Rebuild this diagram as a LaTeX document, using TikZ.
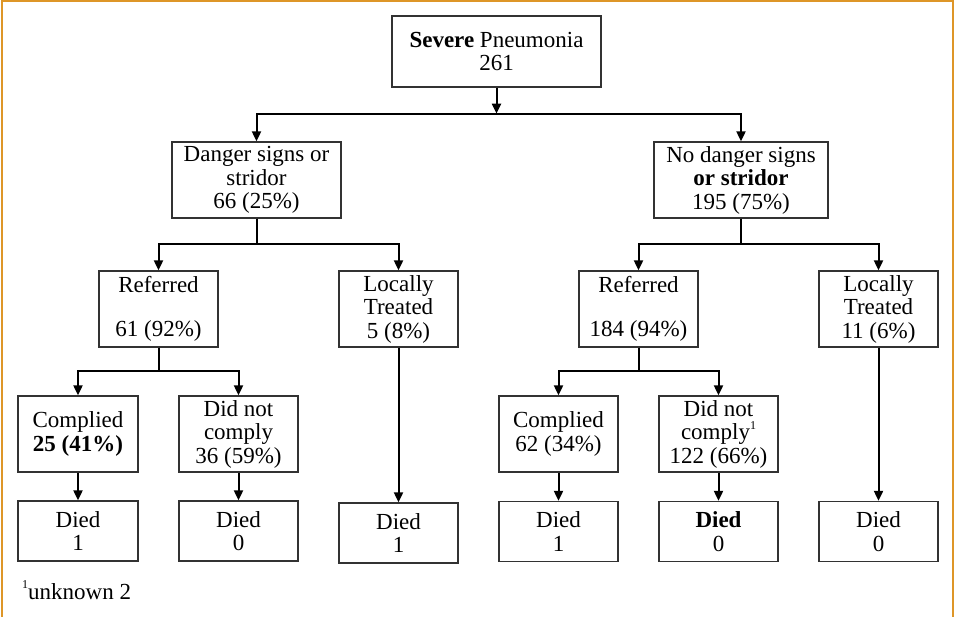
\documentclass[tikz,border=0pt]{standalone}
\usepackage{fontspec}
\setmainfont{Liberation Serif}
\usetikzlibrary{arrows.meta}
\definecolor{frameorange}{RGB}{222,150,40}
\definecolor{boxgray}{RGB}{50,50,50}
\newcommand{\fnmark}{\raisebox{0.45em}{\fontsize{12}{12}\selectfont 1}}

\begin{document}
\begin{tikzpicture}[x=1pt,y=-1pt,
  font=\fontsize{23}{23.5}\selectfont,
  box/.style={draw=boxgray,line width=1.3pt,align=center,inner sep=0pt,minimum width=119pt,minimum height=76pt},
  diedbox/.style={box,minimum height=60pt},
  link/.style={line width=2pt},
  arrow/.style={link,-{Triangle[length=10pt,width=9pt]}}
]
\useasboundingbox (0,0) rectangle (956,617);
\draw[frameorange,line width=2pt] (2,617) -- (2,1) -- (953,1) -- (953,617);

\node[box,minimum width=209pt,minimum height=71pt] (sp) at (496.5,51.5) {\textbf{Severe} Pneumonia\\261};
\node[box,minimum width=169pt] (dg) at (256.5,180) {Danger signs or\\stridor\\66 (25\%)};
\node[box,minimum width=174pt] (nd) at (741,180) {No danger signs\\\textbf{or stridor}\\195 (75\%)};
\node[box] (refl) at (158.5,309) {Referred\\[21pt]61 (92\%)};
\node[box] (locl) at (398.5,309) {Locally\\Treated\\5 (8\%)};
\node[box] (refr) at (638.5,309) {Referred\\[21pt]184 (94\%)};
\node[box] (locr) at (878.5,309) {Locally\\Treated\\11 (6\%)};
\node[box,minimum width=120pt] (coml) at (78,434) {Complied\\\textbf{25 (41\%)}};
\node[box] (dncl) at (238.5,434) {Did not\\comply\\36 (59\%)};
\node[box] (comr) at (558.5,434) {Complied\\62 (34\%)};
\node[box] (dncr) at (718.5,434) {Did not\\comply\fnmark\\122 (66\%)};
\node[diedbox,minimum width=120pt] (dcoml) at (78,531) {Died\\1};
\node[diedbox] (ddncl) at (238.5,531) {Died\\0};
\node[diedbox] (dlocl) at (398.5,533) {Died\\1};
\node[diedbox] (dcomr) at (558.5,531.5) {Died\\1};
\node[diedbox] (ddncr) at (718.5,531.5) {\textbf{Died}\\0};
\node[diedbox] (dlocr) at (878.5,531.5) {Died\\0};
\node[anchor=base west,inner sep=0pt] (note) at (22,599) {\fnmark unknown 2};

\draw[arrow] (sp.south) -- ++(0,26) coordinate (s0);
\draw[arrow] (s0) -| (dg.north);
\draw[arrow] (s0) -| (nd.north);
\draw[arrow] (dg.south) -- ++(0,25) -| (refl.north);
\draw[arrow] (dg.south) -- ++(0,25) -| (locl.north);
\draw[arrow] (nd.south) -- ++(0,25) -| (refr.north);
\draw[arrow] (nd.south) -- ++(0,25) -| (locr.north);
\draw[arrow] (refl.south) -- ++(0,23) -| (coml.north);
\draw[arrow] (refl.south) -- ++(0,23) -| (dncl.north);
\draw[arrow] (refr.south) -- ++(0,23) -| (comr.north);
\draw[arrow] (refr.south) -- ++(0,23) -| (dncr.north);
\draw[arrow] (coml) -- (dcoml);
\draw[arrow] (dncl) -- (ddncl);
\draw[arrow] (locl) -- (dlocl);
\draw[arrow] (comr) -- (dcomr);
\draw[arrow] (dncr) -- (ddncr);
\draw[arrow] (locr) -- (dlocr);
\end{tikzpicture}
\end{document}
